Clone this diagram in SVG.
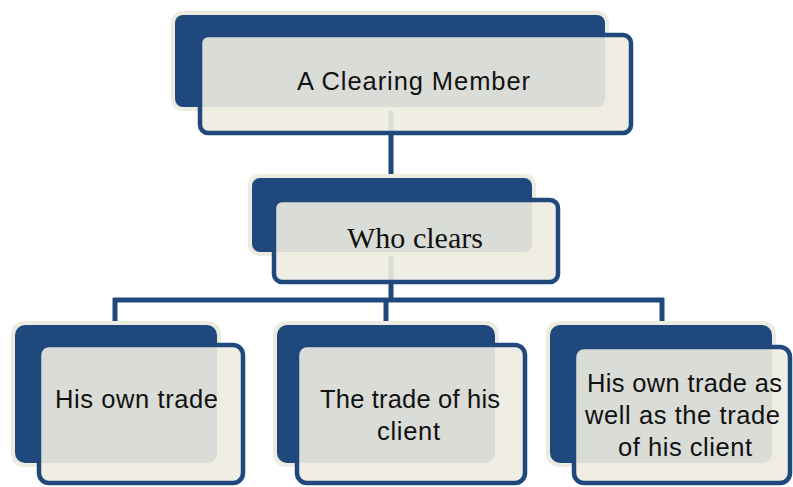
<svg xmlns="http://www.w3.org/2000/svg" width="793" height="487" viewBox="0 0 793 487">
<style>
.halo{fill:#EEECE1;}
.back{fill:#1F497D;}
.front{fill:#EEECE1;fill-opacity:0.9;stroke:#1F497D;stroke-width:4.5;}
.conn{stroke:#1F497D;stroke-width:5;fill:none;}
.t{font-family:"Liberation Sans",Arial,sans-serif;font-size:25.5px;fill:#111111;}
.s{font-family:"Liberation Serif","Times New Roman",serif;font-size:30px;fill:#111111;}
</style>
<rect width="793" height="487" fill="#ffffff"/>
<g id="connectors">
<path class="conn" d="M391,105 V200"/>
<path class="conn" d="M391,250 V300"/>
<path class="conn" d="M113,300 H664"/>
<path class="conn" d="M115,298 V330"/>
<path class="conn" d="M386,298 V330"/>
<path class="conn" d="M662,298 V330"/>
</g>
<g id="node-top">
<rect class="halo" x="171" y="11" width="438" height="100" rx="11"/>
<rect class="back" x="175" y="15" width="430" height="92" rx="8"/>
<rect class="front" x="200" y="35" width="431" height="98" rx="8"/>
<text class="t" x="297" y="90" textLength="233">A Clearing Member</text>
</g>
<g id="node-who">
<rect class="halo" x="248" y="174" width="288" height="82" rx="11"/>
<rect class="back" x="252" y="178" width="280" height="74" rx="8"/>
<rect class="front" x="274" y="200" width="284" height="82" rx="8"/>
<text class="s" x="347" y="248" textLength="136">Who clears</text>
</g>
<g id="node-own">
<rect class="halo" x="11" y="321" width="210" height="146" rx="13"/>
<rect class="back" x="15" y="325" width="202" height="138" rx="10"/>
<rect class="front" x="39" y="345" width="204" height="138" rx="10"/>
<text class="t" x="55" y="408" textLength="163">His own trade</text>
</g>
<g id="node-client">
<rect class="halo" x="273" y="321" width="226" height="146" rx="13"/>
<rect class="back" x="277" y="325" width="218" height="138" rx="10"/>
<rect class="front" x="297" y="345" width="228" height="138" rx="10"/>
<text class="t" x="320" y="408" textLength="180">The trade of his</text>
<text class="t" x="377" y="440" textLength="63">client</text>
</g>
<g id="node-both">
<rect class="halo" x="546" y="321" width="230" height="146" rx="13"/>
<rect class="back" x="550" y="325" width="222" height="138" rx="10"/>
<rect class="front" x="574" y="347" width="216" height="136" rx="10"/>
<text class="t" x="587" y="392" textLength="195">His own trade as</text>
<text class="t" x="585" y="424" textLength="195">well as the trade</text>
<text class="t" x="618" y="456" textLength="134">of his client</text>
</g>
</svg>
